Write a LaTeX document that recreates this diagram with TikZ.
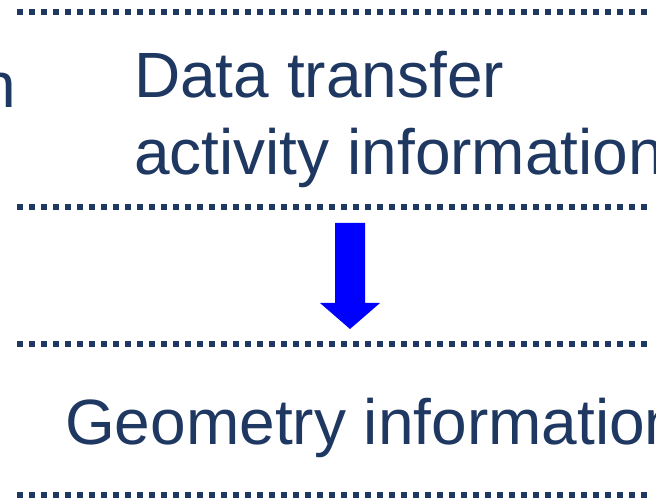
\documentclass[tikz,border=0pt]{standalone}
\usepackage{fontspec}
\setmainfont{Liberation Sans}
\definecolor{navy}{RGB}{31,56,98}
\tikzset{
  sepline/.style={navy, line width=5.5pt, dash pattern=on 6pt off 6pt},
  infotext/.style={navy, inner sep=0pt, anchor=base west,
    font=\fontsize{64}{77}\selectfont},
  flowarrow/.style={fill=blue}
}
\begin{document}
\begin{tikzpicture}[x=1pt, y=-1pt]

    \useasboundingbox (0,0) rectangle (656,502);
    \clip (0,0) rectangle (656,502);

    \draw[sepline] (17,12) -- (647,12);
    \draw[sepline] (17,207) -- (647,207);
    \draw[sepline] (17,344) -- (647,344);
    \draw[sepline] (17,495) -- (647,495);

    \node[infotext, anchor=base east] (left) at (16,108) {n};

    \node[infotext] (transfer) at (134,98) {Data transfer};

    \node[infotext] (activity) at (134,175) {activity information};

    \node[infotext] (geom) at (65,445) {Geometry information};

      \fill[flowarrow] (335,223) -- (365,223) -- (365,303) -- (380,303)
        -- (350,329) -- (320,303) -- (335,303) -- cycle;
    \end{tikzpicture}
\end{document}
